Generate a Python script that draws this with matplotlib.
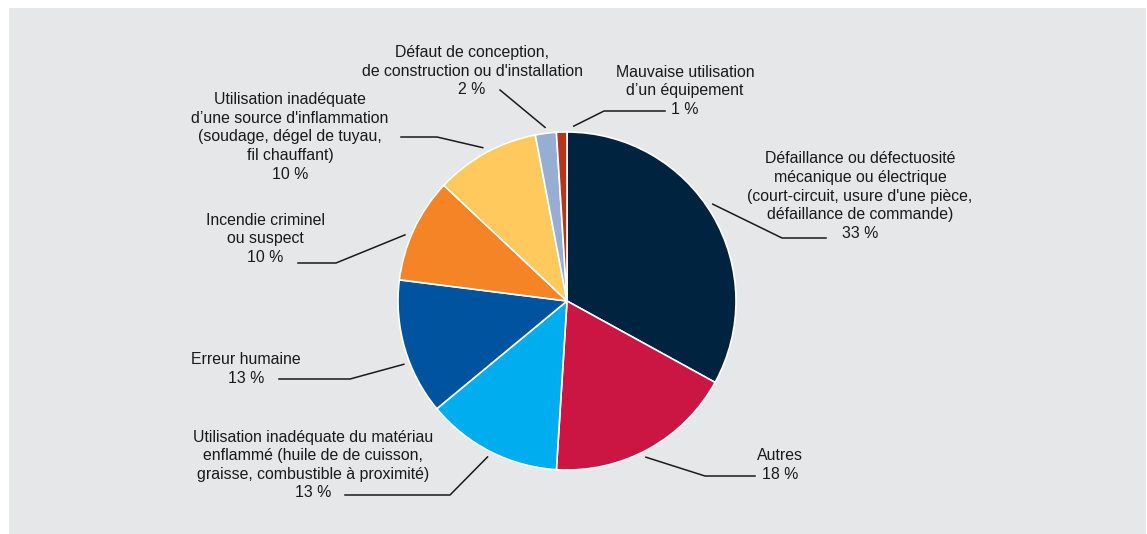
# Camembert : causes des incendies (en %)
import numpy as np
import matplotlib.pyplot as plt
from matplotlib.patches import Rectangle

plt.rcParams['font.family'] = ['Liberation Sans', 'DejaVu Sans']

# DONNEES
labels = [
    "Défaillance ou défectuosité\nmécanique ou électrique\n(court-circuit, usure d'une pièce,\ndéfaillance de commande)",
    "Autres",
    "Utilisation inadéquate du matériau\nenflammé (huile de de cuisson,\ngraisse, combustible à proximité)",
    "Erreur humaine",
    "Incendie criminel\nou suspect",
    "Utilisation inadéquate\nd’une source d'inflammation\n(soudage, dégel de tuyau,\nfil chauffant)",
    "Défaut de conception,\nde construction ou d'installation",
    "Mauvaise utilisation\nd’un équipement",
]
values = [33, 18, 13, 13, 10, 10, 2, 1]
colors = ['#00233f', '#cb1542', '#00adee', '#00549f',
          '#f58426', '#ffc95d', '#97aed3', '#b6351b']

# MISE EN PAGE (pixels, origine en haut a gauche)
W, H = 1147, 534
cx, cy, r = 567, 301, 169
# centre du texte, coude et fin de la ligne de rappel
text_pos = [(860, 196), (780, 465), (313, 465), (246, 369),
            (265, 239), (290, 137), (472, 71), (685, 91)]
elbows = [(782, 238), (705, 476), (450, 495), (350, 379),
          (336, 263), (437, 137), None, (604, 111)]
ends = [(826, 238), (755, 476), (345, 495), (279, 379),
        (298, 263), (401, 137), (500, 90), (665, 111)]
ang_shift = [3, -2, 0, 5, 3, 0, 0, -4]

fig = plt.figure(figsize=(W / 100, H / 100), dpi=100)
ax = fig.add_axes([0, 0, 1, 1])

# FOND GRIS
ax.add_patch(Rectangle((9, 0), W - 10, H - 8, facecolor='#e6e7e8',
                       edgecolor='none', zorder=0))

# PIE
wedges, _ = ax.pie(values, colors=colors, startangle=90, counterclock=False,
                   center=(cx, H - cy), radius=r,
                   wedgeprops=dict(edgecolor='white', linewidth=1.2))

# ETIQUETTES
for i, w in enumerate(wedges):
    mid = np.deg2rad((w.theta1 + w.theta2) / 2 + ang_shift[i])
    x0 = cx + (r + 6) * np.cos(mid)
    y0 = (H - cy) + (r + 6) * np.sin(mid)
    pts = [(x0, y0)]
    if elbows[i] is not None:
        pts.append((elbows[i][0], H - elbows[i][1]))
    pts.append((ends[i][0], H - ends[i][1]))
    xs, ys = zip(*pts)
    ax.plot(xs, ys, color='#1a1a1a', linewidth=1.1)

    txt = labels[i] + "\n" + str(values[i]) + " %"
    ax.text(text_pos[i][0], H - text_pos[i][1], txt, ha='center',
            va='center', fontsize=11.4, linespacing=1.3,
            color='#1a1a1a', multialignment='center')

ax.set_xlim(0, W)
ax.set_ylim(0, H)
ax.set_aspect('equal')
ax.axis('off')

fig.savefig('out.png', dpi=100, facecolor='white')
